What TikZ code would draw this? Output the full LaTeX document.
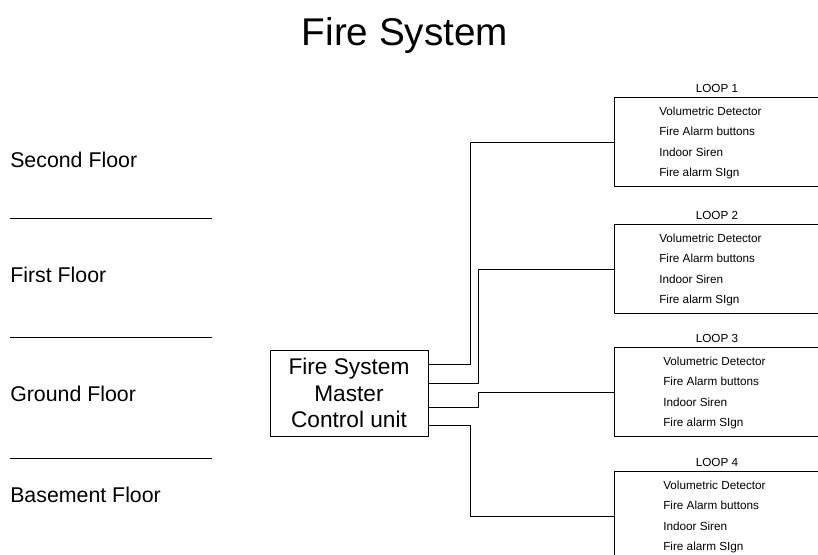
\documentclass[tikz,border=0pt]{standalone}
\usepackage{fontspec}
\setmainfont{Liberation Sans}
\begin{document}
\begin{tikzpicture}[x=0.75pt,y=-0.75pt,thin,
	floor label/.style = {anchor=west, inner sep=0pt, font=\fontsize{16}{19}\selectfont},
	unit box/.style = {draw, align=center, inner sep=0pt, minimum width=118.5pt, minimum height=64.5pt, font=\fontsize{17}{20}\selectfont},
	loop box/.style = {draw, anchor=north west, inner sep=0pt, minimum width=200pt, minimum height=67pt},
	loop title/.style = {inner sep=0pt, font=\fontsize{8.8}{10}\selectfont},
	item/.style = {anchor=west, inner sep=0pt, font=\fontsize{8.8}{10}\selectfont}]
	
	\useasboundingbox (0,0) rectangle (818,554);
	\clip (0,0) rectangle (818,554);
	
	% title
	\node[inner sep=0pt, font=\fontsize{29}{34}\selectfont] (title) at (405,36) {Fire System};
	
	% floors
	\node[floor label] (second) at (10,160) {Second Floor};
	\node[floor label] (first) at (10,275) {First Floor};
	\node[floor label] (ground) at (10,394) {Ground Floor};
	\node[floor label] (basement) at (10,495) {Basement Floor};
	\draw (10,218) -- (212,218);
	\draw (10,337) -- (212,337);
	\draw (10,458) -- (212,458);
	
	% master control unit
	\node[unit box] (cu) at (349,393) {Fire System\\Master\\Control unit};
	\coordinate (out1) at (428,364);
	\coordinate (out2) at (428,383);
	\coordinate (out3) at (428,407);
	\coordinate (out4) at (428,425);
	
	% loops
	\foreach \n/\top/\ix in {1/97/659, 2/224/659, 3/347/663, 4/471/663}{
		\node[loop box] (loop\n) at (614,\top) {};
		\node[loop title] (title\n) at (717,\top-9) {LOOP \n};
		\node[item] (det\n) at (\ix,\top+14) {Volumetric Detector};
		\node[item] (btn\n) at (\ix,\top+34) {Fire Alarm buttons};
		\node[item] (sir\n) at (\ix,\top+55) {Indoor Siren};
		\node[item] (sgn\n) at (\ix,\top+76) {Fire alarm SIgn};
	}
	
	\draw (out1) -- ++(42,0) |- (loop1.west);
	\draw (out2) -- ++(50,0) |- (loop2.west);
	\draw (out3) -- ++(50,0) |- (loop3.west);
	\draw (out4) -- ++(42,0) |- (loop4.west);
	
\end{tikzpicture}
\end{document}
